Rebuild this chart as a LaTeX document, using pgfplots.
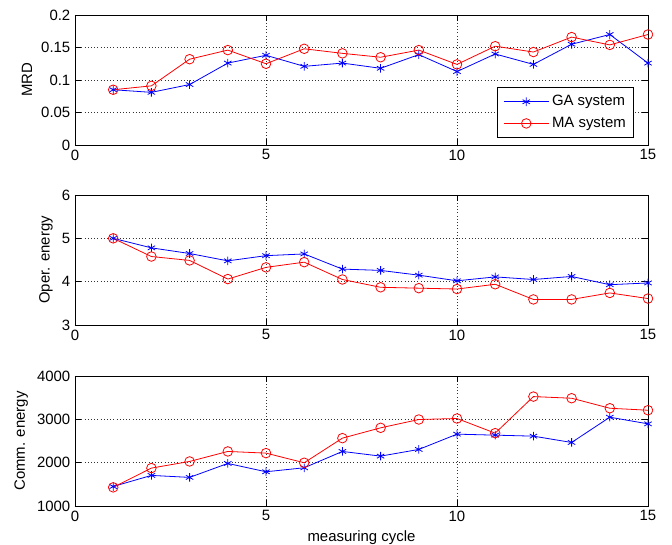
\documentclass[border=0pt]{standalone}
\usepackage{fontspec}
\setmainfont{Liberation Sans}
\usepackage{pgfplots}
\pgfplotsset{compat=1.18}

% GA / MA measurements per measuring cycle
\newcommand{\gamrd}{(1,0.085) (2,0.081) (3,0.093) (4,0.126) (5,0.138) (6,0.121) (7,0.126) (8,0.118) (9,0.139) (10,0.113) (11,0.140) (12,0.124) (13,0.155) (14,0.170) (15,0.126)}
\newcommand{\mamrd}{(1,0.085) (2,0.091) (3,0.132) (4,0.146) (5,0.125) (6,0.148) (7,0.141) (8,0.135) (9,0.146) (10,0.124) (11,0.152) (12,0.143) (13,0.166) (14,0.154) (15,0.170)}

\pgfplotsset{
  mstyle/.style={
    scale only axis, width=429.75pt, height=97.5pt,
    xmin=0, xmax=15, xtick={0,5,10,15},
    grid=major, grid style={dotted, black!80, line width=0.5pt},
    axis line style={line width=0.6pt},
    tick style={black, line width=0.5pt},
    tick align=inside,
    /pgf/number format/assume math mode=true,
    /pgf/number format/1000 sep={},
    scaled ticks=false,
  },
  ga/.style={blue, line width=0.6pt, mark=asterisk, mark size=3.2pt, mark options={line width=0.6pt}},
  ma/.style={red, line width=0.6pt, mark=o, mark size=3.6pt, mark options={line width=0.6pt}},
}

\begin{document}
\begin{tikzpicture}[font=\fontsize{11.2}{13.4}\selectfont]
\begin{axis}[mstyle, at={(0,0)},
  ymin=0, ymax=0.2, ytick={0,0.05,...,0.2},
  yticklabel style={/pgf/number format/fixed, /pgf/number format/precision=2},
  ylabel={MRD},
  legend style={at={(0.976,0.054)}, anchor=south east, draw=black, line width=0.6pt,
    row sep=3pt, inner xsep=4pt, inner ysep=4pt, font=\fontsize{11.2}{13.4}\selectfont},
  legend cell align=left,
  legend image code/.code={\draw[#1] (0pt,0pt) -- (17pt,0pt) plot coordinates {(17pt,0pt)} -- (34pt,0pt);},
]
\addplot[ga] coordinates {\gamrd};
\addplot[ma] coordinates {\mamrd};
\legend{GA system, MA system}
\end{axis}

\begin{axis}[mstyle, at={(0,-135pt)},
  ymin=3, ymax=6, ytick={3,4,5,6},
  ylabel={Oper. energy},
]
\addplot[ga] coordinates {(1,5.0) (2,4.78) (3,4.65) (4,4.48) (5,4.60) (6,4.64) (7,4.29) (8,4.26) (9,4.15) (10,4.02) (11,4.11) (12,4.05) (13,4.12) (14,3.93) (15,3.97)};
\addplot[ma] coordinates {(1,5.0) (2,4.58) (3,4.49) (4,4.06) (5,4.33) (6,4.45) (7,4.05) (8,3.87) (9,3.85) (10,3.83) (11,3.94) (12,3.59) (13,3.59) (14,3.74) (15,3.61)};
\end{axis}

\begin{axis}[mstyle, at={(0,-270.75pt)},
  ymin=1000, ymax=4000, ytick={1000,2000,3000,4000},
  ylabel={Comm. energy}, xlabel={measuring cycle},
]
\addplot[ga] coordinates {(1,1450) (2,1706) (3,1660) (4,1982) (5,1790) (6,1882) (7,2259) (8,2151) (9,2305) (10,2658) (11,2635) (12,2612) (13,2466) (14,3049) (15,2896)};
\addplot[ma] coordinates {(1,1430) (2,1875) (3,2028) (4,2259) (5,2220) (6,1998) (7,2566) (8,2804) (9,2996) (10,3019) (11,2681) (12,3525) (13,3487) (14,3256) (15,3210)};
\end{axis}

\pgfresetboundingbox
\path (-56.25pt,-300pt) rectangle (447.75pt,108.75pt);
\end{tikzpicture}
\end{document}
